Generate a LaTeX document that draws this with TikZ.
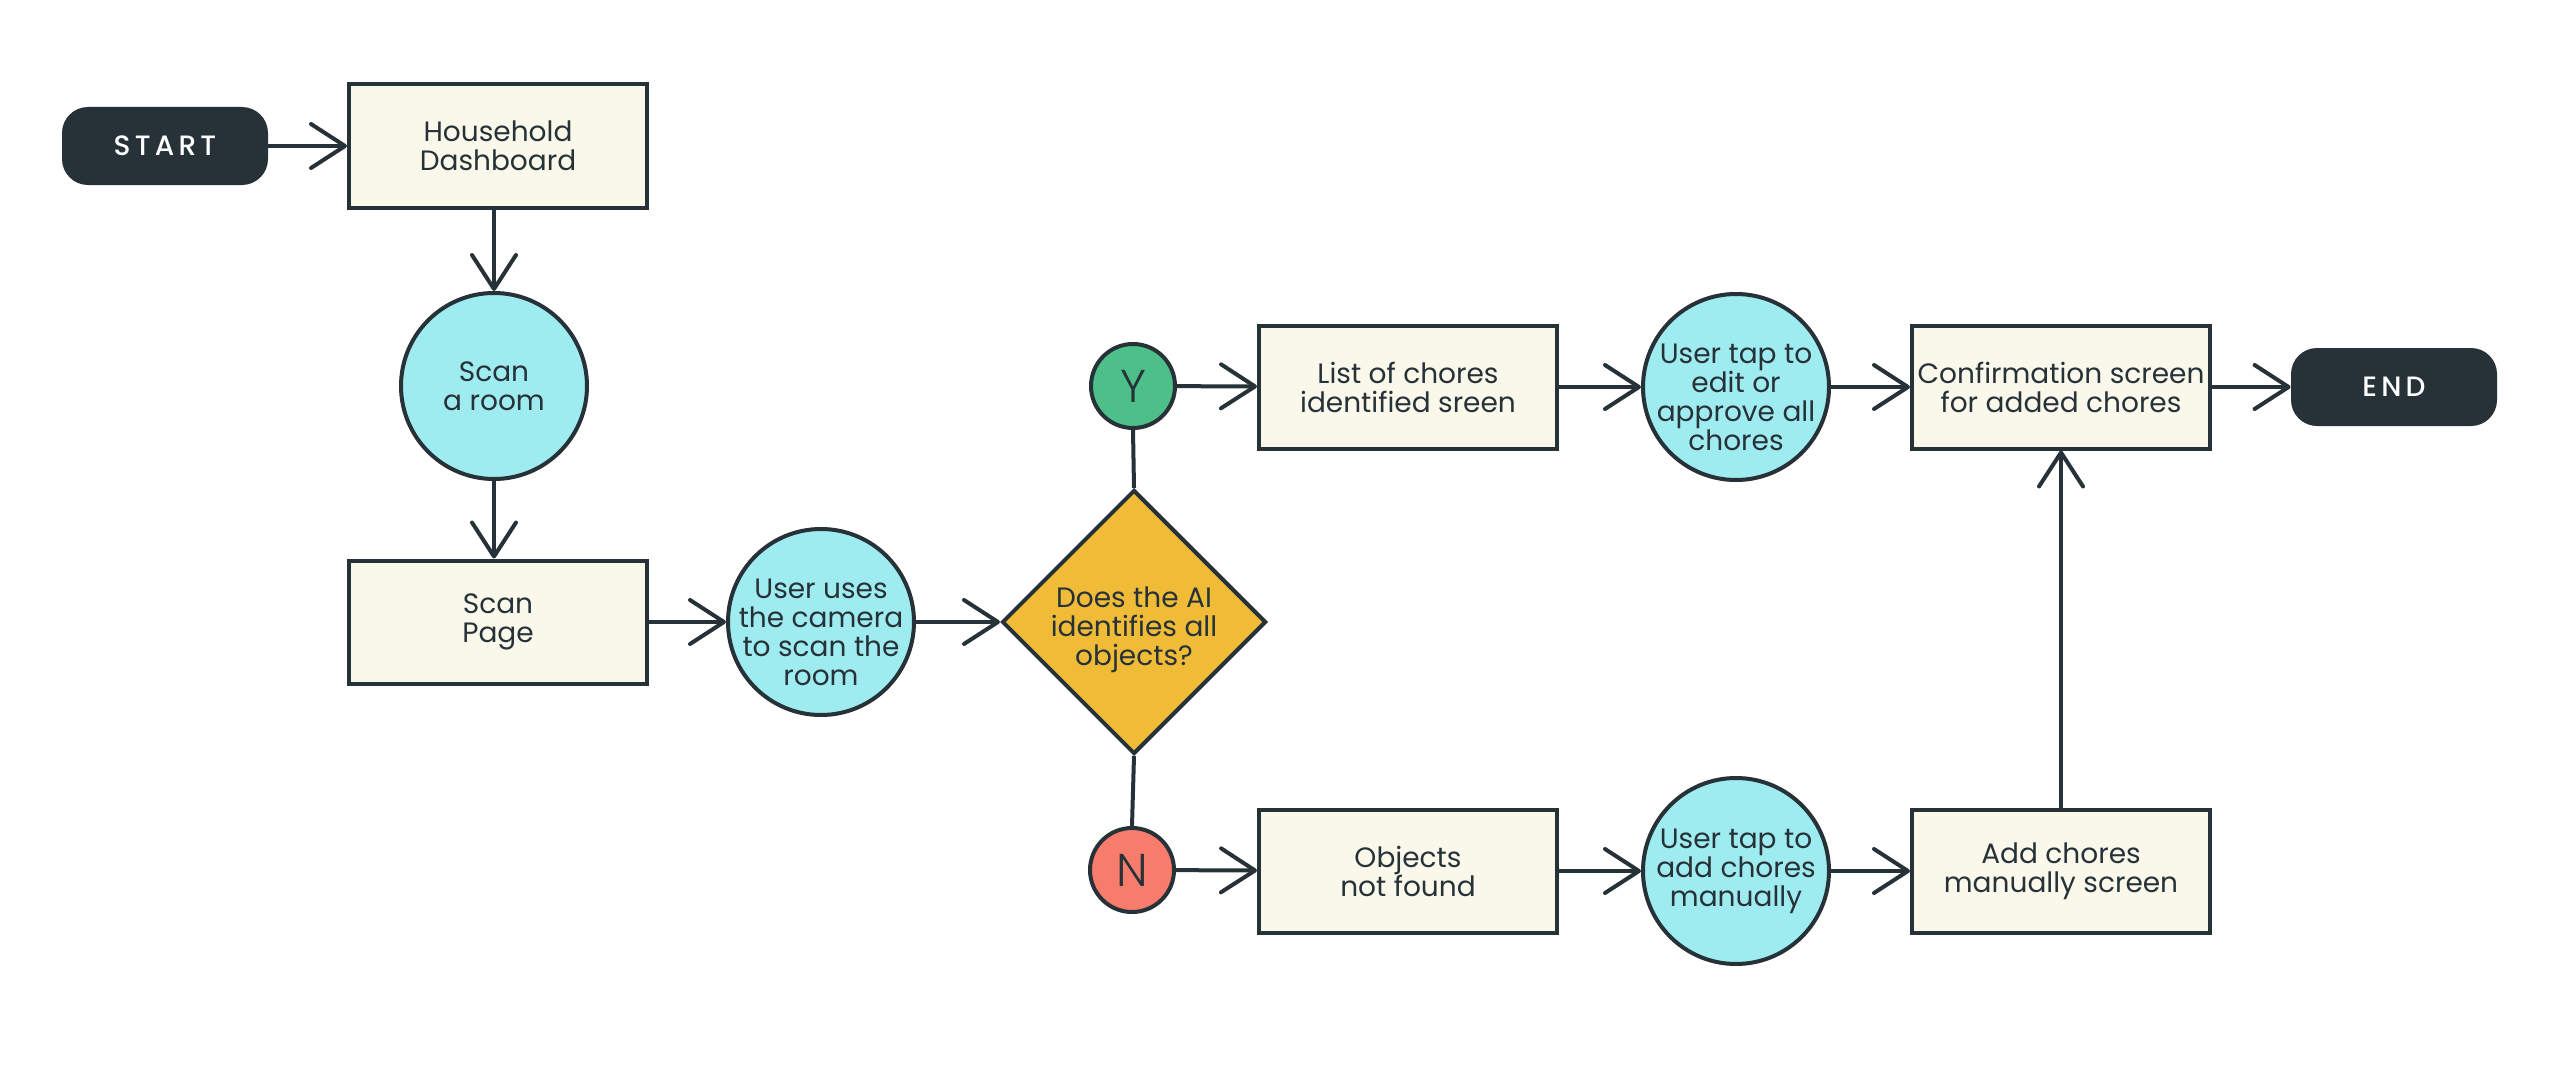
\documentclass[tikz,border=0pt]{standalone}
\usepackage{fontspec}
\setmainfont{Poppins}
\newfontfamily\medfont[LetterSpace=15]{Poppins Medium}
\newfontfamily\lightfont{Poppins Light}
\usetikzlibrary{arrows.meta,shapes.geometric}
\definecolor{ink}{HTML}{263238}
\definecolor{cream}{HTML}{FAF8EB}
\definecolor{sky}{HTML}{9EEBF0}
\definecolor{gold}{HTML}{F0BC38}
\definecolor{leaf}{HTML}{4DC08A}
\definecolor{salmon}{HTML}{F87C6C}
\begin{document}
\begin{tikzpicture}[x=0.5pt,y=-0.5pt,
 every node/.style={font=\fontsize{14}{14.5}\selectfont, text=ink},
 box/.style={draw=ink, line width=2pt, fill=cream, minimum width=149pt, minimum height=61.5pt, inner sep=0pt, align=center},
 circ/.style={circle, draw=ink, line width=2pt, fill=sky, minimum size=93pt, inner sep=0pt},
 ctext/.style={align=center, inner sep=0pt},
 pill/.style={rounded corners=13pt, fill=ink, minimum width=103pt, minimum height=39pt, inner sep=0pt, text=white, font=\medfont\fontsize{14}{14}\selectfont},
 yn/.style={circle, draw=ink, line width=2pt, minimum size=42pt, inner sep=0pt, font=\lightfont\fontsize{23}{23}\selectfont},
 dia/.style={diamond, draw=ink, line width=2pt, fill=gold, minimum width=132pt, minimum height=132pt, inner sep=0pt},
 arr/.style={draw=ink, line width=2pt, -{Straight Barb[length=17pt,width=22pt,round]}},
 ln/.style={draw=ink, line width=2pt}
]
\useasboundingbox[fill=white] (0,0) rectangle (2560,1065);

\node[pill] (start) at (165,146) {START};
\node[box] (hd) at (498,146) {Household\\Dashboard};
\node[circ] (scan) at (494,386) {};
\node[ctext] (scant) at (scan.center) {Scan\\a room};
\node[box] (page) at (498,622) {Scan\\Page};
\node[circ] (user1) at (821,622) {};
\node[ctext, yshift=-5pt] (user1t) at (user1.center) {User uses\\the camera\\to scan the\\room};
\node[dia] (dia) at (1134,622) {};
\node[ctext, yshift=-4pt] (diat) at (dia.center) {Does the AI\\identifies all\\objects?};
\node[yn, fill=leaf] (Y) at (1133,386) {Y};
\node[yn, fill=salmon] (N) at (1132,870) {N};
\node[box] (list) at (1408,387) {List of chores\\identified sreen};
\node[circ] (tap1) at (1736,387) {};
\node[ctext, yshift=-5pt] (tap1t) at (tap1.center) {User tap to\\edit or\\approve all\\chores};
\node[box] (conf) at (2061,387) {Confirmation screen\\for added chores};
\node[pill] (end) at (2394,387) {END};
\node[box] (obj) at (1408,871) {Objects\\not found};
\node[circ] (tap2) at (1736,871) {};
\node[ctext] (tap2t) at (tap2.center) {User tap to\\add chores\\manually};
\node[box] (add) at (2061,871) {Add chores\\manually screen};

\draw[arr] (start) -- (hd);
\draw[arr] (scan.north |- hd.south) -- (scan.north);
\draw[arr] (scan.south) -- (scan.south |- page.north);
\draw[arr] (page) -- (user1);
\draw[arr] (user1) -- (dia);
\draw[ln] (dia.north) -- (Y.south);
\draw[ln] (dia.south) -- (N.north);
\draw[arr] (Y) -- (list);
\draw[arr] (list) -- (tap1);
\draw[arr] (tap1) -- (conf);
\draw[arr] (conf) -- (end);
\draw[arr] (N) -- (obj);
\draw[arr] (obj) -- (tap2);
\draw[arr] (tap2) -- (add);
\draw[arr] (add) -- (conf);
\end{tikzpicture}
\end{document}
